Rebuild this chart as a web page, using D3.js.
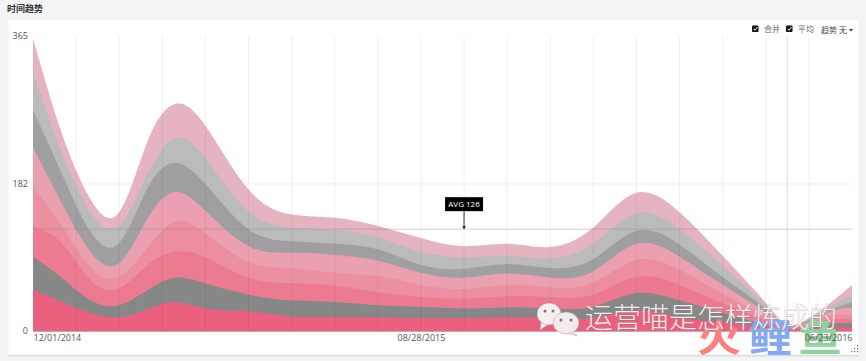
<!DOCTYPE html>
<html><head><meta charset="utf-8">
<script src="https://cdnjs.cloudflare.com/ajax/libs/d3/7.8.5/d3.min.js"></script>
<style>
html,body{margin:0;padding:0;background:#f3f4f6;overflow:hidden}
svg{display:block}
text{font-family:"Open Sans","Noto Sans CJK SC",sans-serif}
</style></head><body><div id="c"></div>
<script>
const dates = ["2014-12-01","2014-12-21","2015-01-10","2015-01-30","2015-02-19","2015-03-10","2015-03-31","2015-04-30","2015-05-30","2015-06-29","2015-07-29","2015-08-28","2015-09-27","2015-10-27","2015-11-26","2015-12-26","2016-01-25","2016-02-24","2016-03-24","2016-04-23","2016-05-09","2016-05-24","2016-06-08","2016-06-23"];
const s1 = [51,36,22,17,27,36,28,24,18,17,17,16,16,17,16,16,26,17,11,4,1,3,4,5];
const s2 = [41,30,16,15,24,30,31,21,20,19,15,14,12,12,12,14,21,21,12,4,1,2,5,5];
const s3 = [37,43,25,21,31,32,32,21,21,20,16,12,12,14,14,15,20,19,12,6,1,3,5,4];
const s4 = [49,22,16,14,22,37,30,19,19,16,20,15,12,14,12,15,21,19,12,4,1,2,5,6];
const s5 = [49,27,19,17,36,37,28,20,19,22,19,15,14,14,12,14,20,16,11,6,1,1,5,9];
const s6 = [46,37,25,25,38,36,33,21,14,14,14,10,11,12,12,15,16,15,10,5,1,2,2,7];
const s7 = [46,26,24,22,17,31,32,22,17,17,15,16,14,10,12,19,22,19,15,4,1,2,5,9];
const s8 = [43,24,16,16,41,42,40,27,16,15,14,17,14,15,14,20,25,21,12,4,1,1,4,12];
const seriesList = [s1,s2,s3,s4,s5,s6,s7,s8];
const colors = ["#ea607e","#868888","#ec7a90","#ec8fa0","#eba0b0","#a0a0a2","#bbbbbb","#e6b4c0"];
const yTicks = [0,182,365];
const xLabels = ["2014-12-01","2015-08-28","2016-06-23"];
const avgValue = 126;
const avgLabel = "AVG 126";
const avgDate = "2015-09-27";
const markerDate = "2016-05-09";
const gridStepDays = 30;
const gridCount = 19;
const title = "时间趋势";
const watermark = "运营喵是怎样炼成的";
const logoChars = ["火","鲤","鱼"];

const W=866,H=361;
const parse=d3.timeParse("%Y-%m-%d"), fmt=d3.timeFormat("%m/%d/%Y");
const parsed=dates.map(parse);
const x=d3.scaleTime().domain([parse(dates[0]),parse(dates[dates.length-1])]).range([33,852]);
const y=d3.scaleLinear().domain([0,365]).range([331,36]);
const svg=d3.select("#c").append("svg").attr("width",W).attr("height",H);

svg.append("text").attr("x",7).attr("y",12).attr("font-size",9).attr("font-weight",700).attr("fill","#333").text(title);
svg.append("rect").attr("x",8).attr("y",19).attr("width",851).attr("height",336).attr("fill","#fff").attr("stroke","#e6e7e9").attr("stroke-width",.6);
svg.append("rect").attr("x",8).attr("y",355).attr("width",851).attr("height",1.5).attr("fill","#dcdee0");

const gridDates=d3.range(1,gridCount).map(i=>d3.timeDay.offset(parse(dates[0]),i*gridStepDays));
const gridG=svg.append("g");
gridG.selectAll("line").data(gridDates).join("line")
 .attr("x1",d=>x(d)).attr("x2",d=>x(d)).attr("y1",36).attr("y2",331).attr("stroke","#f0f0f1").attr("stroke-width",1);
gridG.append("line").attr("x1",33).attr("x2",852).attr("y1",y(182)).attr("y2",y(182)).attr("stroke","#eeeeef");
gridG.append("line").attr("x1",x(parse(markerDate))).attr("x2",x(parse(markerDate))).attr("y1",36).attr("y2",331).attr("stroke","#e4e4e6").attr("stroke-width",1.2);

const rows=parsed.map((d,i)=>{const r={date:d};seriesList.forEach((s,k)=>r["s"+k]=s[i]);return r;});
const stacked=d3.stack().keys(seriesList.map((_,k)=>"s"+k))(rows);
const curve=d3.curveNatural;
const fillArea=d3.area().x(d=>x(d.data.date)).y0(y(0)).y1(d=>y(d[1])).curve(curve);
svg.append("g").selectAll("path").data(stacked.slice().reverse()).join("path").attr("d",fillArea).attr("fill",(d,i)=>colors[colors.length-1-i]);

svg.append("clipPath").attr("id","ac").append("path").attr("d",fillArea(stacked[stacked.length-1]));
const over=svg.append("g").attr("opacity",.05).attr("clip-path","url(#ac)");
over.selectAll("line").data(gridDates).join("line")
 .attr("x1",d=>x(d)).attr("x2",d=>x(d)).attr("y1",36).attr("y2",331).attr("stroke","#000");

svg.append("line").attr("x1",33).attr("x2",852).attr("y1",y(avgValue)).attr("y2",y(avgValue)).attr("stroke","#8b8b8d").attr("stroke-opacity",.4).attr("stroke-width",1);
svg.append("line").attr("x1",33).attr("x2",852).attr("y1",331.5).attr("y2",331.5).attr("stroke","#c9a8b0");

const yAxis=d3.axisLeft(y).tickValues(yTicks).tickSize(0).tickPadding(5);
const gy=svg.append("g").attr("transform","translate(33,0)").call(yAxis);
gy.select(".domain").remove();
gy.selectAll("text").attr("font-size",9).attr("fill","#555").style("font-family",'"Open Sans",sans-serif');

const logoX=[719,770,820], logoC=["#fb8080","#82a9f2","#8fd29c"];
const logoG=svg.append("g");
logoChars.forEach((c,i)=>logoG.append("text").attr("transform",`translate(${logoX[i]},351) scale(1.15,1)`).attr("text-anchor","middle").attr("font-size",38).attr("font-weight",700).attr("fill",logoC[i]).text(c));

const xAxis=d3.axisBottom(x).tickValues(xLabels.map(parse)).tickSize(0).tickPadding(4).tickFormat(fmt);
const gx=svg.append("g").attr("transform","translate(0,331)").call(xAxis);
gx.select(".domain").remove();
gx.selectAll("text").attr("font-size",9).attr("fill","#555").style("font-family",'"Open Sans",sans-serif')
 .attr("text-anchor",(d,i)=>i==0?"start":i==xLabels.length-1?"end":"middle");

const ax=x(parse(avgDate)), ay=y(avgValue);
svg.append("line").attr("x1",ax).attr("x2",ax).attr("y1",ay-18).attr("y2",ay-3).attr("stroke","#333");
svg.append("path").attr("d",d3.line()([[ax-2,ay-3],[ax+2,ay-3],[ax,ay]])).attr("fill","#111");
svg.append("rect").attr("x",ax-19).attr("y",ay-32).attr("width",38).attr("height",14).attr("fill","#000");
svg.append("text").attr("x",ax).attr("y",ay-22).attr("text-anchor","middle").attr("font-size",8).attr("fill","#fff").text(avgLabel);

[[751,"合并"],[785,"平均"]].forEach(([cx,t])=>{
 svg.append("rect").attr("x",cx+1).attr("y",25.5).attr("width",6.5).attr("height",6.5).attr("rx",1).attr("fill","#111");
 svg.append("path").attr("d",`M${cx+2.5} 28.8L${cx+4} 30.3L${cx+6.5} 27`).attr("fill","none").attr("stroke","#fff").attr("stroke-width",1);
 svg.append("text").attr("x",cx+13).attr("y",32).attr("font-size",8).attr("fill","#666").text(t);
});
svg.append("text").attr("x",821).attr("y",32.5).attr("font-size",8).attr("fill","#444").text("趋势 无");
svg.append("path").attr("d","M849 29L853 29L851 31.5Z").attr("fill","#333");
[[863,352],[860,352],[857,352],[863,349],[860,349],[863,346]].forEach(([a,b])=>svg.append("rect").attr("x",a-6).attr("y",b-1).attr("width",1.2).attr("height",1.2).attr("fill","#666"));

const ic=svg.append("g").attr("stroke","#8a8a8a").attr("stroke-width",.4);
ic.append("path").attr("d","M541 322L540 330L549 324Z").attr("fill","#f5efef");
ic.append("ellipse").attr("cx",549).attr("cy",314).attr("rx",12).attr("ry",11).attr("fill","#f5efef");
ic.append("path").attr("d","M572 330L577 336L568 333Z").attr("fill","#f2eaec");
ic.append("ellipse").attr("cx",566).attr("cy",323).attr("rx",13).attr("ry",11).attr("fill","#f2eaec");
[[545,311],[553,311],[561,320],[571,320]].forEach(([a,b])=>svg.append("circle").attr("cx",a).attr("cy",b).attr("r",1.5).attr("fill","#777"));
svg.append("text").attr("x",585).attr("y",328).attr("font-size",28).attr("font-weight",300)
 .attr("fill","#f6eeee").attr("stroke","#777").attr("stroke-width",.25).style("paint-order","stroke").text(watermark);
</script></body></html>
